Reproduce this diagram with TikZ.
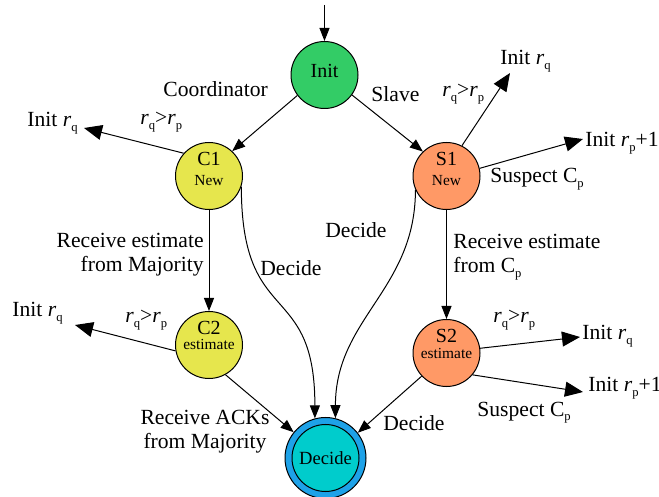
\documentclass[tikz,border=0pt]{standalone}
\usepackage{fontspec}
\setmainfont{Liberation Serif}
\usetikzlibrary{arrows.meta}

\definecolor{initgreen}{HTML}{33CC66}
\definecolor{coordyellow}{HTML}{E6E64D}
\definecolor{slaveorange}{HTML}{FF9966}
\definecolor{decidecyan}{HTML}{00CCCC}
\definecolor{decideblue}{HTML}{1EA2E8}

% italic r with a small, lowered upright index
\newcommand\rr{\textit{r}}
\newcommand\lsub[1]{\raisebox{-2.2pt}{\fontsize{6.3}{7}\selectfont #1}}

\tikzset{
  state/.style={circle, draw, line width=0.5pt, inner sep=0pt, minimum size=33.5pt},
  statename/.style={anchor=base, inner sep=0pt, font=\fontsize{10}{11}\selectfont},
  statesub/.style={anchor=base, inner sep=0pt, font=\fontsize{7.7}{8}\selectfont},
  lbl/.style={inner sep=0pt, font=\fontsize{10.8}{12}\selectfont},
  trans/.style={-{Triangle[length=6.5pt,width=5pt]}, line width=0.5pt},
  outarr/.style={-{Triangle[length=9pt,width=7.5pt]}, line width=0.5pt},
}

\begin{document}
\begin{tikzpicture}[x=0.5pt,y=-0.5pt]
\useasboundingbox (0,0) rectangle (659,497);

% states
\node[state, fill=initgreen]   (init) at (324.5,75) {};
\node[state, fill=coordyellow] (c1)   at (209,176)  {};
\node[state, fill=slaveorange] (s1)   at (446.5,176) {};
\node[state, fill=coordyellow] (c2)   at (209,345)  {};
\node[state, fill=slaveorange] (s2)   at (446.5,353) {};
\node[state, fill=decideblue, minimum size=40.5pt] (dec) at (325.5,458) {};
\node[state, fill=decidecyan] (decin) at (dec) {};

% state texts
\path (init) ++(0,3) node[statename] (initt) {Init};
\path (c1) ++(0,-10) node[statename] (c1t) {C1}
      ++(0,20) node[statesub] (c1s) {New};
\path (s1) ++(0,-10) node[statename] (s1t) {S1}
      ++(0,20) node[statesub] (s1s) {New};
\path (c2) ++(0,-10) node[statename] (c2t) {C2}
      ++(0,15) node[statesub] (c2s) {estimate};
\path (s2) ++(0,-10) node[statename] (s2t) {S2}
      ++(0,15) node[statesub] (s2s) {estimate};
\path (dec) ++(0,6) node[statename, font=\fontsize{9.3}{10}\selectfont] (dect) {Decide};

% free ends of the outgoing arrows
\coordinate (start) at (324.5,5);
\coordinate (c1q) at (84,128);
\coordinate (s1q) at (510,73);
\coordinate (s1p) at (583,139);
\coordinate (c2q) at (75,325);
\coordinate (s2q) at (580,337);
\coordinate (s2p) at (583,392);

% transitions between states
\draw[trans] (start) -- (init);
\draw[trans] (init.217) -- (c1.47);
\draw[trans] (init.-36) -- (s1.134);
\draw[trans] (c1) -- (c2);
\draw[trans] (s1) -- (s2);
\draw[trans] (c1.-18) .. controls +(0,143) and +(0,-140) .. (dec.105);
\draw[trans] (s1.204) .. controls +(0,100) and +(0,-100) .. (dec.76);
\draw[trans] (c2.-61) -- (dec.141);
\draw[trans] (s2.223) -- (dec.38);

% restarts
\draw[outarr] (c1.138) -- (c1q);
\draw[outarr] (s1.63) -- (s1q);
\draw[outarr] (s1.13) -- (s1p);
\draw[outarr] (c2.190) -- (c2q);
\draw[outarr] (s2.8) -- (s2q);
\draw[outarr] (s2.-40) -- (s2p);

% labels (two-line labels are placed by the baseline of their last line)
\node[lbl, anchor=base west] (lcoord) at (163,97) {Coordinator};
\node[lbl, anchor=base west] (lslave) at (371,102) {Slave};
\node[lbl, anchor=base west] (lc1q) at (27,127) {Init \rr\lsub{q}};
\node[lbl, anchor=base west] (lc1c) at (140,125) {\rr\lsub{q}>\rr\lsub{p}};
\node[lbl, anchor=base east, align=right, font=\fontsize{10.8}{12}\selectfont]
  (lrecm) at (204,272) {Receive estimate\\from Majority};
\node[lbl, anchor=base west, align=left, font=\fontsize{10.8}{12}\selectfont]
  (lrecc) at (453,273) {Receive estimate\\from C\lsub{p}};
\node[lbl, anchor=base west] (ldec1) at (260,276) {Decide};
\node[lbl, anchor=base west] (ldec2) at (325,238) {Decide};
\node[lbl, anchor=base west] (ls1c) at (442,97) {\rr\lsub{q}>\rr\lsub{p}};
\node[lbl, anchor=base west] (ls1q) at (500,65) {Init \rr\lsub{q}};
\node[lbl, anchor=base west] (ls1p) at (585,147) {Init \rr\lsub{p}+1};
\node[lbl, anchor=base west] (ls1s) at (490,183) {Suspect C\lsub{p}};
\node[lbl, anchor=base west] (lc2q) at (12,317) {Init \rr\lsub{q}};
\node[lbl, anchor=base west] (lc2c) at (125,323) {\rr\lsub{q}>\rr\lsub{p}};
\node[lbl, anchor=base, align=center, font=\fontsize{10.8}{12}\selectfont]
  (lack) at (205,448) {Receive ACKs\\from Majority};
\node[lbl, anchor=base west] (ldec3) at (383,430) {Decide};
\node[lbl, anchor=base west] (ls2c) at (493,323) {\rr\lsub{q}>\rr\lsub{p}};
\node[lbl, anchor=base west] (ls2q) at (582,340) {Init \rr\lsub{q}};
\node[lbl, anchor=base west] (ls2p) at (588,392) {Init \rr\lsub{p}+1};
\node[lbl, anchor=base west] (ls2s) at (477,416) {Suspect C\lsub{p}};
\end{tikzpicture}
\end{document}
